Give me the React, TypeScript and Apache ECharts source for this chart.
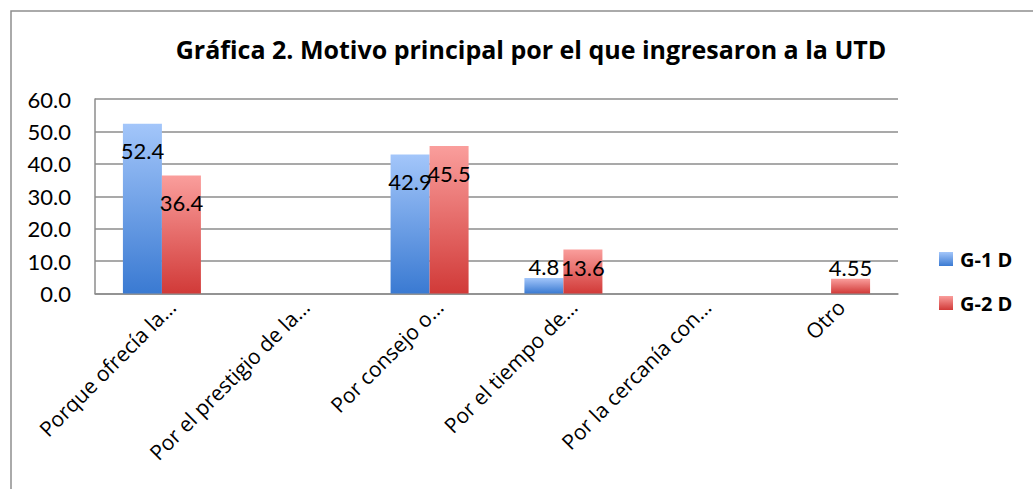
import React, { useEffect, useRef } from "react";
import * as echarts from "echarts";

const categories = [
  "Porque ofrecía la…",
  "Por el prestigio de la…",
  "Por consejo o…",
  "Por el tiempo de…",
  "Por la cercanía con…",
  "Otro",
];
const g1Values = [52.4, 0, 42.9, 4.8, 0, 0];
const g2Values = [36.4, 0, 45.5, 13.6, 0, 4.55];
const yTicks = { min: 0, max: 60, interval: 10 };
const seriesNames = ["G-1 D", "G-2 D"];

const FONT = "Lato, 'Open Sans', sans-serif";
const WIDE = "'Open Sans', Lato, sans-serif";

const blueGrad = new echarts.graphic.LinearGradient(0, 0, 0, 1, [
  { offset: 0, color: "#a3c6fa" },
  { offset: 1, color: "#3a7ad2" },
]);
const redGrad = new echarts.graphic.LinearGradient(0, 0, 0, 1, [
  { offset: 0, color: "#fa9e9c" },
  { offset: 1, color: "#d13a38" },
]);

function labelFor(v: number) {
  if (!v) return { show: false };
  if (v < 8) return { show: true, position: "top", distance: 0 };
  if (v < 20) return { show: true, position: "insideTop", distance: 7 };
  return { show: true, position: "insideTop", distance: 16 };
}

export default function App() {
  const ref = useRef<HTMLDivElement>(null);
  useEffect(() => {
    if (!ref.current) return;
    const chart = echarts.init(ref.current, undefined, { renderer: "svg" });
    const mk = (vals: number[]) =>
      vals.map((v) => ({ value: v, label: labelFor(v) }));
    const dataLabel = {
      fontFamily: FONT,
      fontSize: 22,
      color: "#000",
    };
    chart.setOption({
      animation: false,
      backgroundColor: "#ffffff",
      textStyle: { fontFamily: FONT },
      title: {
        text: "Gráfica 2. Motivo principal por el que ingresaron a la UTD",
        left: 526,
        top: 31,
        textAlign: "center",
        textStyle: {
          fontFamily: WIDE,
          fontWeight: "bold",
          fontSize: 25,
          color: "#000",
        },
      },
      graphic: [
        {
          type: "rect",
          shape: { x: 11, y: 11, width: 1040, height: 500 },
          style: { fill: "none", stroke: "#8e8e8e", lineWidth: 1.5 },
          silent: true,
        },
      ],
      legend: {
        orient: "vertical",
        left: 939,
        top: 249,
        padding: 0,
        itemWidth: 14,
        itemHeight: 14,
        itemGap: 24,
        icon: "rect",
        data: seriesNames,
        textStyle: {
          fontFamily: WIDE,
          fontWeight: "bold",
          fontSize: 20,
          color: "#000",
          padding: [0, 0, 0, 2],
        },
      },
      grid: { left: 95, top: 99, right: 135, bottom: 195.5, containLabel: false },
      xAxis: {
        type: "category",
        data: categories,
        axisLine: { show: true, lineStyle: { color: "#8c8c8c", width: 1.5 } },
        axisTick: { show: false },
        axisLabel: {
          rotate: 45,
          interval: 0,
          margin: 0,
          verticalAlign: "top",
          lineHeight: 28,
          fontFamily: WIDE,
          fontSize: 21,
          color: "#000",
        },
      },
      yAxis: {
        type: "value",
        min: yTicks.min,
        max: yTicks.max,
        interval: yTicks.interval,
        axisLine: { show: true, lineStyle: { color: "#8c8c8c", width: 1.5 } },
        axisTick: { show: false },
        splitLine: { show: true, lineStyle: { color: "#8c8c8c", width: 1.5 } },
        axisLabel: {
          formatter: (v: number) => v.toFixed(1),
          margin: 24,
          fontFamily: FONT,
          fontSize: 22,
          color: "#000",
        },
      },
      series: [
        {
          name: seriesNames[0],
          type: "bar",
          data: mk(g1Values),
          barWidth: 39,
          barGap: "0%",
          itemStyle: { color: blueGrad },
          label: dataLabel,
        },
        {
          name: seriesNames[1],
          type: "bar",
          data: mk(g2Values),
          barWidth: 39,
          barGap: "0%",
          itemStyle: { color: redGrad },
          label: dataLabel,
        },
      ],
    });
    return () => chart.dispose();
  }, []);
  return (
    <div
      ref={ref}
      style={{ position: "fixed", left: 0, top: 0, width: 1033, height: 489 }}
    />
  );
}
